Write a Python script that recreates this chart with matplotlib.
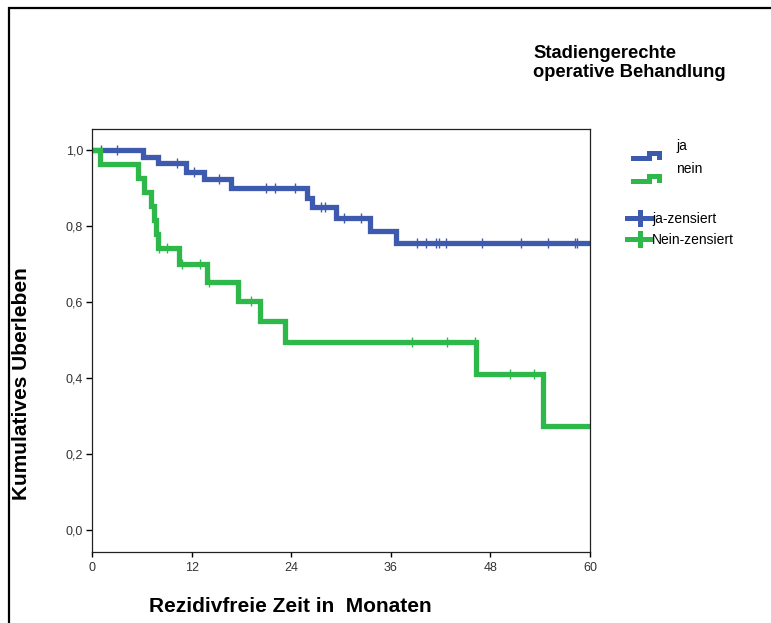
import numpy as np
import matplotlib.pyplot as plt
from matplotlib.lines import Line2D

plt.rcParams['font.family'] = ['Liberation Sans', 'DejaVu Sans']

## Kaplan-Meier data (months, cumulative survival)
# stage-appropriate surgery: ja
t_ja = [0, 6.2, 7.9, 11.3, 13.5, 16.8, 25.9, 26.5, 29.4, 33.5, 36.6]
s_ja = [1.0, 0.979, 0.964, 0.942, 0.922, 0.900, 0.872, 0.848, 0.819, 0.787, 0.755]
cens_ja = [1.1, 3.0, 10.3, 12.3, 15.3, 21.0, 22.1, 24.5, 27.6, 28.1, 30.4, 32.4,
           39.1, 40.3, 41.4, 41.8, 42.7, 47.0, 51.7, 54.9, 58.2, 58.4]

# stage-appropriate surgery: nein
t_nein = [0, 1.0, 5.6, 6.3, 7.1, 7.5, 7.7, 8.0, 10.5, 13.9, 17.6, 20.3, 23.3, 46.3, 54.3]
s_nein = [1.0, 0.963, 0.926, 0.889, 0.852, 0.815, 0.778, 0.741, 0.700, 0.653, 0.603,
          0.548, 0.493, 0.411, 0.274]
cens_nein = [8.1, 9.0, 10.8, 13.0, 14.1, 19.1, 38.6, 42.8, 46.1, 50.4, 53.3]

t_end = 60

xticks = [0, 12, 24, 36, 48, 60]
yticks = [0.0, 0.2, 0.4, 0.6, 0.8, 1.0]
ytick_labels = ['0,0', '0,2', '0,4', '0,6', '0,8', '1,0']

blue = '#3E5AAE'
green = '#2FB84A'


def surv_at(t, times, surv):
    # value of the step function at time t
    i = np.searchsorted(times, t, side='right') - 1
    return surv[i]


W, H = 771, 623
fig = plt.figure(figsize=(W / 100, H / 100), dpi=100)
ax = fig.add_axes([92 / W, 1 - 552 / H, 498 / W, 423 / H])

for times, surv, cens, col in [(t_ja, s_ja, cens_ja, blue),
                               (t_nein, s_nein, cens_nein, green)]:
    tt = list(times) + [t_end]
    ss = list(surv) + [surv[-1]]
    ax.step(tt, ss, where='post', color=col, lw=3.8, solid_joinstyle='miter',
            solid_capstyle='butt')
    cy = [surv_at(c, times, surv) for c in cens]
    ax.plot(cens, cy, ls='none', marker='|', ms=6.5, mew=1.0, color=col)

ax.set_xlim(0, 60)
ax.set_ylim(-0.0578, 1.0539)
ax.set_xticks(xticks)
ax.set_xticklabels([str(x) for x in xticks])
ax.set_yticks(yticks)
ax.set_yticklabels(ytick_labels)
ax.tick_params(axis='y', length=4.5, width=1.0, pad=2, labelsize=9, labelcolor='#333333')
ax.tick_params(axis='x', length=3.5, width=1.0, pad=4, labelsize=9, labelcolor='#333333')
for sp in ax.spines.values():
    sp.set_linewidth(0.9)
    sp.set_color('#222222')

# axis titles
fig.text(21.5 / W, 1 - 384 / H, 'Kumulatives Uberleben', rotation=90,
         ha='center', va='center', fontsize=15, fontweight='bold')
fig.text(290 / W, 1 - 606 / H, 'Rezidivfreie Zeit in  Monaten',
         ha='center', va='center', fontsize=15, fontweight='bold')

# legend
fig.text(533 / W, 1 - 63 / H, 'Stadiengerechte\noperative Behandlung',
         ha='left', va='center', fontsize=13.2, fontweight='bold', linespacing=1.1)


def px(x, y):
    return x / W, 1 - y / H


for y0, col, lab in [(158, blue, 'ja'), (181, green, 'nein')]:
    xs, ys = zip(px(633, y0), px(648.5, y0), px(648.5, y0 - 5.5),
                 px(659, y0 - 5.5), px(659, y0 - 1))
    fig.add_artist(Line2D(xs, ys, color=col, lw=3.6, solid_joinstyle='miter'))
    fig.text(*px(676, y0 - 12), lab, ha='left', va='center', fontsize=10)

for y0, col, lab in [(218, blue, 'ja-zensiert'), (239, green, 'Nein-zensiert')]:
    xs, ys = zip(px(627, y0), px(651, y0))
    fig.add_artist(Line2D(xs, ys, color=col, lw=3.6))
    xs, ys = zip(px(640, y0 - 6), px(640, y0 + 6))
    fig.add_artist(Line2D(xs, ys, color=col, lw=3.6))
    fig.text(*px(652, y0 + 1), lab, ha='left', va='center', fontsize=10)

# outer frame (top and left edges)
xs, ys = zip(px(8.5, H + 2), px(8.5, 7.5), px(W + 2, 7.5))
fig.add_artist(Line2D(xs, ys, color='black', lw=1.6, solid_joinstyle='miter'))

fig.savefig('out.png', dpi=100)
